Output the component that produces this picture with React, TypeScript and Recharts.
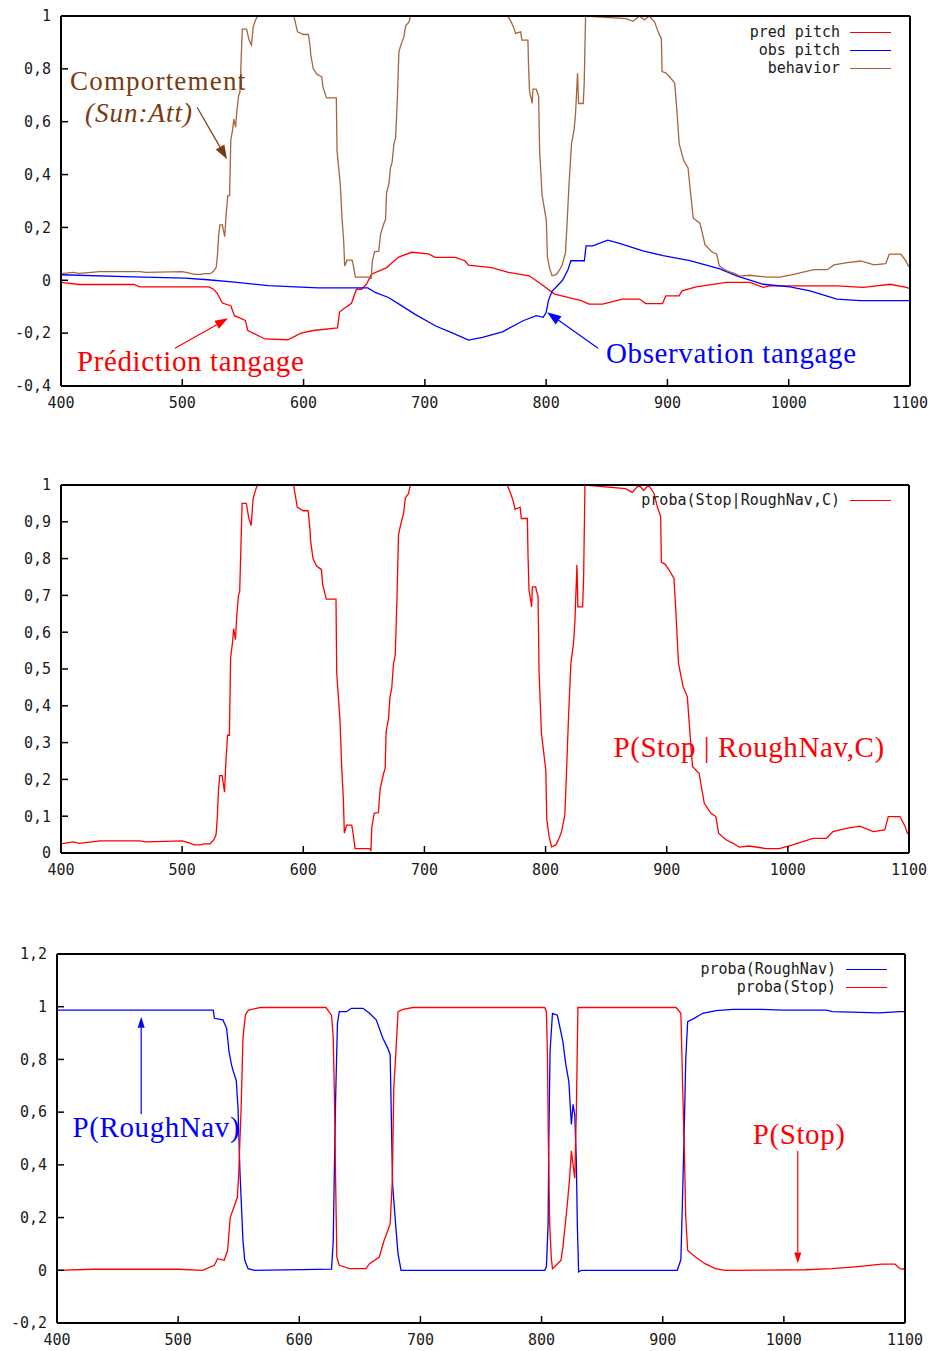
import React from 'react';
import { LineChart, Line, XAxis, YAxis, ReferenceLine, ReferenceDot, Legend } from 'recharts';

const MONO = '"DejaVu Sans Mono", monospace';
const SERIF = '"Liberation Serif", "Times New Roman", serif';

const RED = '#ff0000';
const BLUE = '#0000ff';
const BROWN = '#a8643c';
const BROWN_TEXT = '#7a3a0e';

// ticks
const xTicks = [400, 500, 600, 700, 800, 900, 1000, 1100];
const pitchTicks = [-0.4, -0.2, 0, 0.2, 0.4, 0.6, 0.8, 1];
const stopTicks = [0, 0.1, 0.2, 0.3, 0.4, 0.5, 0.6, 0.7, 0.8, 0.9, 1];
const probaTicks = [-0.2, 0, 0.2, 0.4, 0.6, 0.8, 1, 1.2];

// proba(Stop|RoughNav,C) -- also plotted as "behavior" in the top panel
const stopCX = [400, 410, 415, 420, 432, 465, 470, 500, 505, 510, 515, 518, 523, 526, 528, 529, 530, 531, 533, 535, 536, 537.5, 539, 540, 541.5, 542.5, 544, 545, 546.5, 547.5, 548.5, 549.5, 553, 555, 557, 558.5, 560, 562, 592, 593, 595, 600, 604, 605.5, 606, 608, 611, 615, 616, 619, 627, 627.6, 630.3, 631.7, 633.1, 633.9, 635.8, 640, 641.3, 642.7, 655.2, 655.8, 656.6, 658.5, 662, 663.5, 666.3, 667.6, 668.4, 670.4, 671.6, 673, 674.5, 675.9, 677.3, 678.6, 680, 682.8, 684.2, 686.9, 688.3, 768.4, 771.2, 773.4, 774.8, 779, 780, 785, 785.5, 786.3, 787.7, 788.5, 789.1, 791.8, 793.8, 794.6, 796.6, 800.2, 801, 802.9, 804.9, 808.5, 811.2, 813.2, 815.9, 817.3, 818.9, 820.9, 823.1, 824.2, 825.9, 826.7, 830.6, 831.4, 832.5, 866, 871.5, 877, 881, 885, 889.5, 892.3, 895, 895.6, 898.6, 902, 906, 907.5, 909.7, 913.5, 917, 919, 921.3, 926.8, 931, 936.5, 940.6, 942.8, 948.9, 954.4, 960, 968, 982, 993, 1004, 1020.7, 1031.8, 1037.3, 1048.3, 1059.4, 1070.4, 1080, 1082.9, 1092.5, 1096.7, 1098.6, 1100];
const stopCY = [0.025, 0.03, 0.026, 0.028, 0.033, 0.033, 0.03, 0.033, 0.028, 0.022, 0.022, 0.025, 0.025, 0.035, 0.05, 0.095, 0.17, 0.21, 0.21, 0.165, 0.24, 0.32, 0.32, 0.53, 0.57, 0.61, 0.58, 0.64, 0.7, 0.71, 0.83, 0.95, 0.95, 0.91, 0.89, 0.96, 0.98, 1, 1, 0.98, 0.94, 0.93, 0.93, 0.88, 0.85, 0.8, 0.78, 0.77, 0.73, 0.69, 0.69, 0.49, 0.36, 0.235, 0.145, 0.054, 0.076, 0.076, 0.05, 0.012, 0.012, 0.005, 0.07, 0.108, 0.11, 0.176, 0.216, 0.23, 0.33, 0.366, 0.425, 0.447, 0.516, 0.538, 0.687, 0.864, 0.887, 0.923, 0.964, 0.977, 1, 1, 0.977, 0.955, 0.934, 0.94, 0.909, 0.909, 0.81, 0.715, 0.687, 0.669, 0.723, 0.723, 0.696, 0.493, 0.325, 0.225, 0.09, 0.045, 0.017, 0.022, 0.04, 0.058, 0.103, 0.22, 0.366, 0.516, 0.571, 0.628, 0.783, 0.669, 0.669, 0.746, 1, 0.99, 0.98, 1, 0.985, 1, 0.977, 0.94, 0.914, 0.79, 0.785, 0.769, 0.746, 0.66, 0.516, 0.452, 0.425, 0.334, 0.235, 0.216, 0.135, 0.108, 0.099, 0.054, 0.036, 0.027, 0.016, 0.019, 0.012, 0.012, 0.022, 0.04, 0.04, 0.058, 0.067, 0.073, 0.058, 0.063, 0.099, 0.099, 0.073, 0.054, 0.05];

// pred pitch
const predX = [400, 415, 460, 465, 522, 526, 529, 533, 540, 543, 552, 554, 568, 587, 598, 608, 628, 629.7, 634, 639.5, 643.6, 647.7, 651.8, 656, 668.6, 678, 689, 703, 708.5, 725, 733, 736, 755, 769, 786, 796, 807, 818, 829, 835.4, 846.6, 863, 877, 882, 896, 898.6, 909.6, 912, 923.7, 934.7, 948.5, 968, 979, 984.4, 1000.9, 1039.5, 1061.6, 1067, 1083.6, 1097, 1100];
const predY = [-0.008, -0.016, -0.016, -0.025, -0.025, -0.035, -0.05, -0.086, -0.096, -0.134, -0.152, -0.19, -0.222, -0.225, -0.2, -0.19, -0.18, -0.12, -0.105, -0.087, -0.034, -0.034, -0.015, 0.023, 0.048, 0.087, 0.106, 0.1, 0.087, 0.087, 0.074, 0.057, 0.048, 0.03, 0.017, -0.015, -0.052, -0.065, -0.077, -0.09, -0.09, -0.071, -0.071, -0.088, -0.088, -0.059, -0.059, -0.04, -0.025, -0.017, -0.008, -0.008, -0.027, -0.021, -0.021, -0.021, -0.027, -0.024, -0.015, -0.027, -0.032];

// obs pitch
const obsX = [400, 460, 502, 521, 543, 571, 598, 612, 653, 659, 670, 681, 692, 709, 723, 736, 747.5, 764, 781, 792, 797.5, 800, 802, 805, 808, 813.5, 818, 820.4, 831.5, 832.9, 838.4, 850.8, 860.5, 879.8, 896.4, 918.5, 943.3, 957, 979, 1001, 1017.6, 1039.7, 1059, 1100];
const obsY = [0.021, 0.013, 0.008, 0.002, -0.007, -0.02, -0.026, -0.029, -0.029, -0.046, -0.065, -0.097, -0.129, -0.173, -0.2, -0.226, -0.216, -0.195, -0.153, -0.134, -0.14, -0.122, -0.075, -0.04, -0.027, 0, 0.04, 0.074, 0.074, 0.13, 0.13, 0.152, 0.14, 0.111, 0.093, 0.074, 0.043, 0.017, -0.015, -0.025, -0.04, -0.071, -0.077, -0.077];

// proba(RoughNav)
const roughX = [400, 529, 530, 537, 540, 542, 544, 545.5, 548, 549.4, 551, 553.5, 555, 557.7, 563, 626.6, 628, 628.8, 630, 631.5, 633, 639, 643, 652.6, 658, 663.5, 669, 673, 675, 675.7, 677, 679.5, 681.5, 684, 802.6, 804, 805.4, 806, 807, 809, 813, 817.6, 820, 822.5, 824.6, 826, 827.4, 828.7, 829.5, 830.6, 833, 912, 915, 916.5, 918, 919, 920.6, 926, 933, 944, 958, 980, 999, 1035, 1040, 1078.5, 1096, 1100];
const roughY = [0.987, 0.987, 0.956, 0.95, 0.918, 0.83, 0.78, 0.755, 0.72, 0.617, 0.377, 0.113, 0.038, 0.006, 0, 0.004, 0.107, 0.34, 0.654, 0.937, 0.981, 0.981, 0.994, 0.994, 0.975, 0.95, 0.88, 0.843, 0.818, 0.654, 0.327, 0.176, 0.063, 0, 0, 0.013, 0.176, 0.49, 0.83, 0.975, 0.968, 0.868, 0.78, 0.717, 0.553, 0.63, 0.59, 0.415, 0.176, -0.006, 0, 0, 0.04, 0.3, 0.58, 0.8, 0.943, 0.956, 0.975, 0.985, 0.99, 0.99, 0.987, 0.987, 0.981, 0.977, 0.981, 0.981];

// proba(Stop)
const stopX = [400, 430, 500, 520, 529.9, 532.6, 538, 540.8, 543, 546, 548.9, 550, 552, 553.5, 555.5, 558, 567.7, 622, 626.6, 628, 629, 630, 631, 633, 641.5, 655, 658, 666, 670, 673, 675, 676.8, 678, 679.5, 681.5, 685.6, 694, 802.6, 804, 804.8, 805.6, 806.7, 808, 809, 812, 816, 817.6, 819, 821, 823, 824.6, 826, 827.4, 828.7, 830, 911, 915, 916.5, 918, 919, 920.6, 927, 935, 943.4, 951.7, 1017.6, 1039.6, 1058.8, 1080.8, 1091.8, 1096, 1100];
const stopY = [0, 0.004, 0.004, 0, 0.019, 0.044, 0.038, 0.075, 0.2, 0.239, 0.277, 0.365, 0.617, 0.88, 0.969, 0.987, 0.997, 0.997, 0.968, 0.887, 0.66, 0.34, 0.05, 0.019, 0.006, 0.006, 0.025, 0.05, 0.113, 0.15, 0.176, 0.34, 0.69, 0.805, 0.981, 0.99, 0.997, 0.997, 0.98, 0.83, 0.49, 0.176, 0.05, 0.006, 0.019, 0.038, 0.088, 0.15, 0.239, 0.34, 0.453, 0.4, 0.35, 0.6, 0.997, 0.997, 0.975, 0.69, 0.428, 0.2, 0.075, 0.05, 0.025, 0.006, 0, 0.002, 0.006, 0.013, 0.023, 0.023, 0.006, 0.004];

const toPoints = (xs: number[], ys: number[]) => xs.map((x, i) => ({ x, y: ys[i] }));

const fmt = (v: number) => String(Math.round(v * 10) / 10).replace('.', ',');

const tickFont = { fill: '#1a1a1a', fontFamily: MONO, fontSize: 15 };
const border = { stroke: '#000', strokeWidth: 2 };
const tickStroke = { stroke: '#000', strokeWidth: 1.5 };

// gnuplot-like frame: border on all four sides, ticks pointing inward
function frame(yTicks: number[], yDomain: [number, number], xHeight = 30) {
  return [
    <XAxis key="xb" xAxisId={0} type="number" dataKey="x" domain={[400, 1100]} ticks={xTicks} interval={0}
      allowDataOverflow height={xHeight} tickSize={-7} tickMargin={18} tickFormatter={fmt}
      axisLine={border} tickLine={tickStroke} tick={tickFont} />,
    <XAxis key="xt" xAxisId="top" orientation="top" type="number" domain={[400, 1100]} ticks={xTicks} interval={0}
      allowDataOverflow height={1} tickSize={-7} tick={false} axisLine={border} tickLine={tickStroke} />,
    <YAxis key="yl" yAxisId={0} type="number" domain={yDomain} ticks={yTicks} interval={0} allowDataOverflow
      width={50} tickSize={-7} tickMargin={17} tickFormatter={fmt}
      axisLine={border} tickLine={tickStroke} tick={tickFont} />,
    <YAxis key="yr" yAxisId="right" orientation="right" type="number" domain={yDomain} ticks={yTicks} interval={0}
      allowDataOverflow width={1} tickSize={-7} tick={false} axisLine={border} tickLine={tickStroke} />,
  ];
}

const legendContent = (order: string[]) => (props: any) => {
  const items = [...(props.payload || [])].sort((a: any, b: any) => order.indexOf(a.value) - order.indexOf(b.value));
  return (
    <div style={{ fontFamily: MONO, fontSize: 15, lineHeight: '18px', color: '#1a1a1a' }}>
      {items.map((e: any) => (
        <div key={e.value} style={{ display: 'flex', justifyContent: 'flex-end', alignItems: 'center' }}>
          <span style={{ whiteSpace: 'pre' }}>{e.value}</span>
          <span style={{ display: 'inline-block', width: 41, height: 0, borderTop: `1.5px solid ${e.color}`, marginLeft: 10 }} />
        </div>
      ))}
    </div>
  );
};

const arrow = (color: string, head = 13, half = 4.5) => (p: any) => {
  const x1 = Number(p.x1), y1 = Number(p.y1), x2 = Number(p.x2), y2 = Number(p.y2);
  const dx = x2 - x1, dy = y2 - y1;
  const len = Math.hypot(dx, dy) || 1;
  const ux = dx / len, uy = dy / len;
  const bx = x2 - ux * head, by = y2 - uy * head;
  const pts = `${x2},${y2} ${bx - uy * half},${by + ux * half} ${bx + uy * half},${by - ux * half}`;
  return (
    <g>
      <line x1={x1} y1={y1} x2={bx} y2={by} stroke={color} strokeWidth={1.2} />
      <polygon points={pts} fill={color} />
    </g>
  );
};

const note = (text: string, color: string, size = 29, spacing = 0.6, italic = false) => (p: any) => (
  <text x={p.cx} y={p.cy} fill={color} fontFamily={SERIF} fontSize={size} letterSpacing={spacing}
    fontStyle={italic ? 'italic' : 'normal'}>
    {text}
  </text>
);

const lineProps = { type: 'linear' as const, dataKey: 'y', dot: false, strokeWidth: 1.3, isAnimationActive: false };

export default function App() {
  return (
    <div style={{ position: 'absolute', left: 0, top: 0, width: 935, height: 1351, background: '#fff' }}>
      <div style={{ position: 'absolute', left: 0, top: 0 }}>
        <LineChart width={935} height={420} margin={{ top: 15, right: 24, bottom: 4, left: 11 }}>
          {frame(pitchTicks, [-0.4, 1])}
          <Line {...lineProps} data={toPoints(predX, predY)} name="pred pitch" stroke={RED} />
          <Line {...lineProps} data={toPoints(obsX, obsY)} name="obs pitch" stroke={BLUE} />
          <Line {...lineProps} data={toPoints(stopCX, stopCY)} name="behavior" stroke={BROWN} />
          <Legend layout="vertical" align="center" verticalAlign="middle"
            content={legendContent(['pred pitch', 'obs pitch', 'behavior'])}
            wrapperStyle={{ top: 23, right: 44, left: 'auto', width: 'auto' }} />
          <ReferenceDot x={407.4} y={0.719} r={0} shape={note('Comportement', BROWN_TEXT, 27, 1.2)} />
          <ReferenceDot x={419.8} y={0.598} r={0} shape={note('(Sun:Att)', BROWN_TEXT, 27, 1, true)} />
          <ReferenceLine segment={[{ x: 512.2, y: 0.655 }, { x: 536.9, y: 0.458 }]} shape={arrow(BROWN_TEXT, 14, 5)} />
          <ReferenceDot x={413.2} y={-0.344} r={0} shape={note('Prédiction tangage', RED)} />
          <ReferenceLine segment={[{ x: 494, y: -0.257 }, { x: 537.7, y: -0.144 }]} shape={arrow(RED)} />
          <ReferenceDot x={849.4} y={-0.314} r={0} shape={note('Observation tangage', BLUE)} />
          <ReferenceLine segment={[{ x: 842.8, y: -0.257 }, { x: 800.8, y: -0.121 }]} shape={arrow(BLUE, 14, 5)} />
        </LineChart>
      </div>

      <div style={{ position: 'absolute', left: 0, top: 470 }}>
        <LineChart width={935} height={420} margin={{ top: 14, right: 25, bottom: 7, left: 11 }}>
          {frame(stopTicks, [0, 1])}
          <Line {...lineProps} data={toPoints(stopCX, stopCY)} name="proba(Stop|RoughNav,C)" stroke={RED} />
          <Legend layout="vertical" align="center" verticalAlign="middle"
            content={legendContent(['proba(Stop|RoughNav,C)'])}
            wrapperStyle={{ top: 21, right: 44, left: 'auto', width: 'auto' }} />
          <ReferenceDot x={856} y={0.261} r={0} shape={note('P(Stop | RoughNav,C)', RED)} />
        </LineChart>
      </div>

      <div style={{ position: 'absolute', left: 0, top: 940 }}>
        <LineChart width={935} height={411} margin={{ top: 13, right: 29, bottom: 0, left: 7 }}>
          {frame(probaTicks, [-0.2, 1.2], 28)}
          <Line {...lineProps} data={toPoints(roughX, roughY)} name="proba(RoughNav)" stroke={BLUE} />
          <Line {...lineProps} data={toPoints(stopX, stopY)} name="proba(Stop)" stroke={RED} />
          <Legend layout="vertical" align="center" verticalAlign="middle"
            content={legendContent(['proba(RoughNav)', 'proba(Stop)'])}
            wrapperStyle={{ top: 20, right: 48, left: 'auto', width: 'auto' }} />
          <ReferenceDot x={412.8} y={0.506} r={0} shape={note('P(RoughNav)', BLUE)} />
          <ReferenceLine segment={[{ x: 469.5, y: 0.592 }, { x: 469.5, y: 0.962 }]} shape={arrow(BLUE, 11, 3.5)} />
          <ReferenceDot x={974.3} y={0.479} r={0} shape={note('P(Stop)', RED)} />
          <ReferenceLine segment={[{ x: 1011.5, y: 0.453 }, { x: 1011.5, y: 0.026 }]} shape={arrow(RED, 11, 3.5)} />
        </LineChart>
      </div>
    </div>
  );
}
